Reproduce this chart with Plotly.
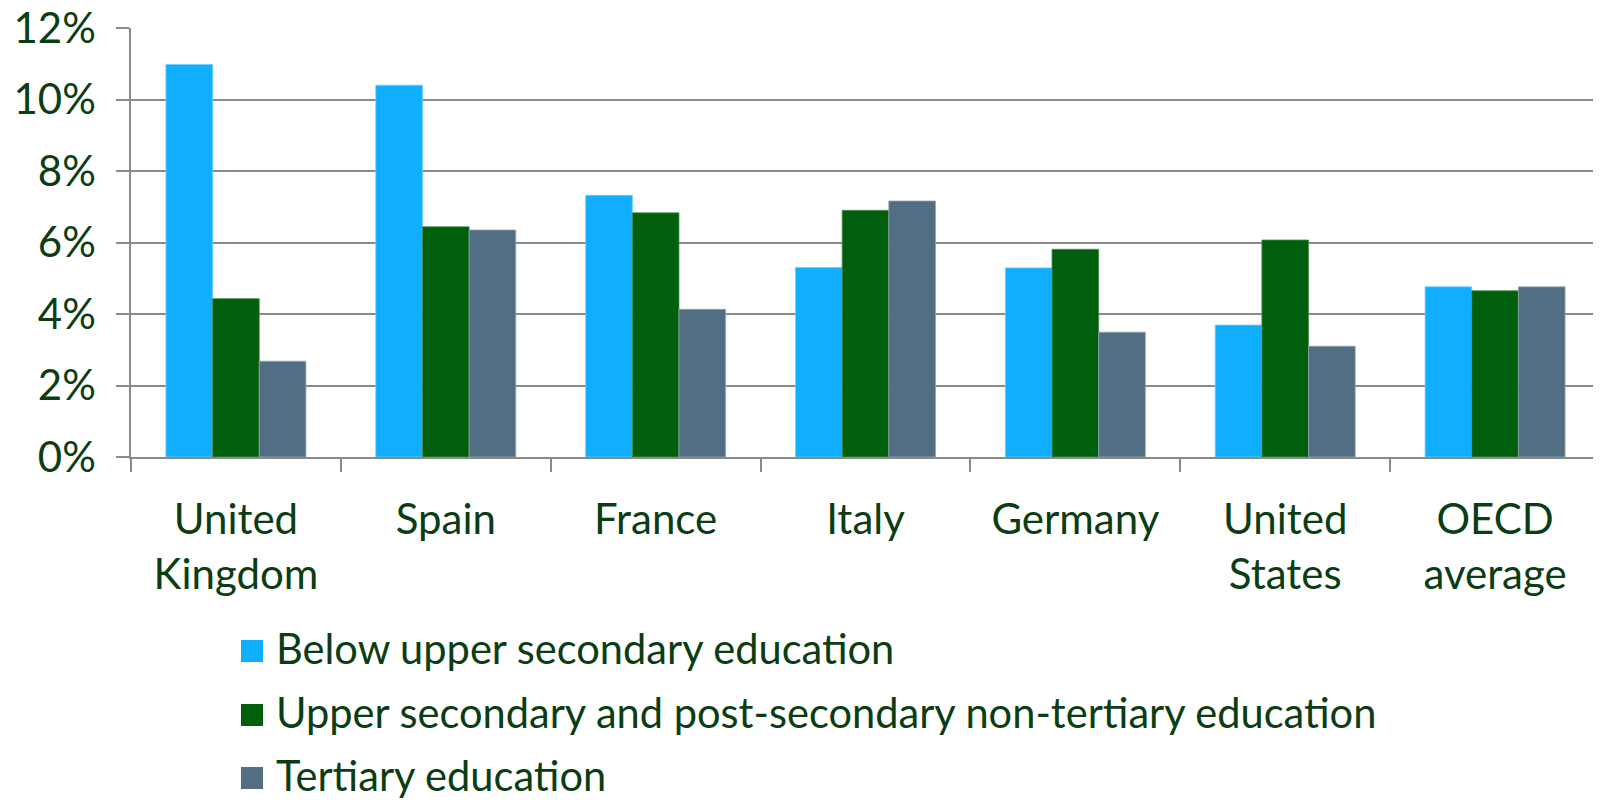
import plotly.graph_objects as go

categories = ["United<br>Kingdom", "Spain", "France", "Italy", "Germany", "United<br>States", "OECD<br>average"]
series_names = [
    "Below upper secondary education",
    "Upper secondary and post-secondary non-tertiary education",
    "Tertiary education",
]
below_upper_secondary = [10.98, 10.40, 7.32, 5.30, 5.29, 3.69, 4.76]
upper_secondary = [4.43, 6.44, 6.83, 6.90, 5.81, 6.07, 4.65]
tertiary = [2.68, 6.35, 4.13, 7.16, 3.49, 3.10, 4.76]
y_ticks = [0, 2, 4, 6, 8, 10, 12]

colors = ["#0FAEFF", "#005F0C", "#526E82"]
edge_colors = ["#6CCBFF", "#4C8A52", "#93A6B3"]
TEXT = "#0B3D12"
GRID = "#888C88"
FONT = "Lato"

OFF = 8  # default page body margin
W, H = 1601 - OFF, 800 - OFF
L, R, T, B = 131 - OFF, 1, 28 - OFF, 343


fig = go.Figure()
for name, vals, c, ec in zip(series_names, [below_upper_secondary, upper_secondary, tertiary], colors, edge_colors):
    fig.add_trace(go.Bar(x=categories, y=vals, name=name,
                         marker=dict(color=c, line=dict(color=ec, width=0.8)),
                         showlegend=False))

# custom legend (large square swatches); positions in page pixels
pw, ph = W - L - R, H - T - B
plot_left_px = L + OFF
plot_bottom_px = OFF + H - B
row_centers = [651, 715, 778]
for name, c, yc in zip(series_names, colors, row_centers):
    x0, x1 = 241, 263
    fig.add_shape(type="rect", xref="paper", yref="paper",
                  x0=(x0 - plot_left_px) / pw, x1=(x1 - plot_left_px) / pw,
                  y0=(plot_bottom_px - (yc + 11)) / ph, y1=(plot_bottom_px - (yc - 11)) / ph,
                  fillcolor=c, line=dict(width=0))
    fig.add_annotation(xref="paper", yref="paper", x=(274 - plot_left_px) / pw,
                       y=(plot_bottom_px - (yc - 3)) / ph,
                       xanchor="left", yanchor="middle", text=name, showarrow=False,
                       font=dict(family=FONT, size=41.6, color=TEXT))

fig.update_layout(
    width=W, height=H,
    margin=dict(l=L, r=R, t=T, b=B, pad=0),
    paper_bgcolor="white", plot_bgcolor="white",
    barmode="group", bargap=0.333, bargroupgap=0,
    font=dict(family=FONT, color=TEXT),
)
fig.update_xaxes(
    automargin=False,
    tickson="boundaries", ticks="outside", ticklen=13, tickcolor=GRID, tickwidth=1.5,
    showline=True, linecolor=GRID, linewidth=1.5, showgrid=False,
    tickfont=dict(family=FONT, size=42, color=TEXT), ticklabelstandoff=25,
)
fig.update_yaxes(
    automargin=False, ticklabeloverflow="allow",
    range=[0, 12], tickvals=y_ticks, ticktext=[f"{v}%" for v in y_ticks],
    ticks="outside", ticklen=13, tickcolor=GRID, tickwidth=1.5,
    showline=True, linecolor=GRID, linewidth=1.5,
    showgrid=True, gridcolor=GRID, gridwidth=1.5, zeroline=False,
    tickfont=dict(family=FONT, size=42, color=TEXT), ticklabelstandoff=12,
)

fig.write_html("out.html")
